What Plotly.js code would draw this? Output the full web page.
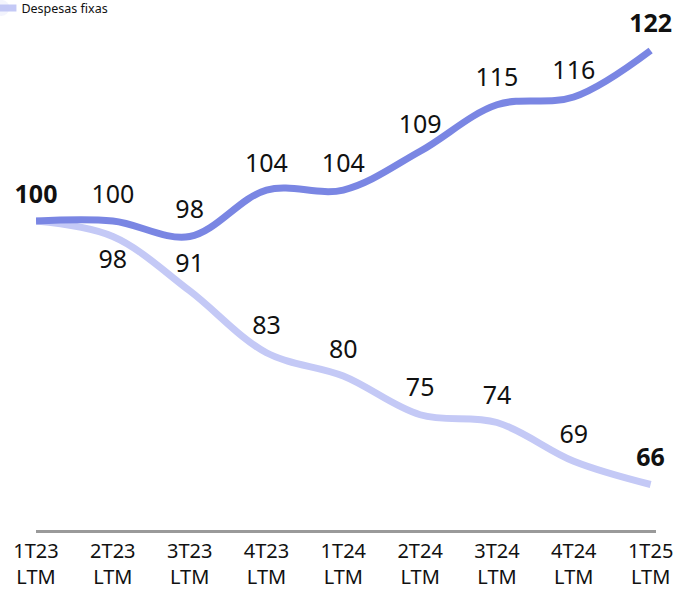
<!DOCTYPE html>
<html>
<head>
<meta charset="utf-8">
<script src="https://cdn.plot.ly/plotly-3.0.1.min.js"></script>
<style>html,body{margin:0;padding:0;background:#fff;}#chart{width:680px;height:591px;}</style>
</head>
<body>
<div id="chart"></div>
<script>
var categories = ["1T23<br>LTM","2T23<br>LTM","3T23<br>LTM","4T23<br>LTM","1T24<br>LTM","2T24<br>LTM","3T24<br>LTM","4T24<br>LTM","1T25<br>LTM"];
var receitaValues = [100, 100, 98, 104, 104, 109, 115, 116, 122];
var despesasValues = [100, 98, 91, 83, 80, 75, 74, 69, 66];
var receitaName = "Receita";
var despesasName = "Despesas fixas";

var idx = categories.map(function(_, i){ return i; });

var darkText = receitaValues.map(function(v, i){
  return (i === 0 || i === receitaValues.length - 1) ? "<b>" + v + "</b>" : String(v);
});
var lightText = despesasValues.map(function(v, i){
  if (i === 0) return "";
  return (i === despesasValues.length - 1) ? "<b>" + v + "</b>" : String(v);
});
var lightPos = despesasValues.map(function(v, i){ return i === 1 ? "bottom center" : "top center"; });

var labelFont = {family: "Noto Sans, Open Sans, sans-serif", size: 25, color: "#111"};

var traces = [
  {
    x: idx, y: despesasValues, name: despesasName, type: "scatter",
    mode: "lines+markers+text",
    line: {color: "#c4c9f6", width: 7, shape: "spline", smoothing: 1},
    marker: {size: 18, opacity: 0, color: "#c4c9f6"},
    text: lightText, textposition: lightPos, textfont: labelFont, cliponaxis: false,
    hoverinfo: "skip", showlegend: true
  },
  {
    x: idx, y: receitaValues, name: receitaName, type: "scatter",
    mode: "lines+markers+text",
    line: {color: "#7a86e3", width: 7, shape: "spline", smoothing: 1},
    marker: {size: 18, opacity: 0, color: "#7a86e3"},
    text: darkText, textposition: "top center", textfont: labelFont, cliponaxis: false,
    hoverinfo: "skip", showlegend: false
  }
];

var layout = {
  width: 680, height: 591,
  margin: {l: 36, r: 24, t: 20, b: 61, autoexpand: false},
  paper_bgcolor: "#fff", plot_bgcolor: "#fff",
  font: {family: "Noto Sans, Open Sans, sans-serif", color: "#111"},
  showlegend: true,
  legend: {x: -0.088, xanchor: "left", y: 1.023, yanchor: "middle", yref: "paper",
           font: {size: 12.5, color: "#111"}, bgcolor: "rgba(0,0,0,0)"},
  xaxis: {
    range: [0, 8.07], tickvals: idx, ticktext: categories,
    showgrid: false, zeroline: false, showline: true, linecolor: "#9a9a9a", linewidth: 3,
    ticks: "", tickfont: {size: 20, color: "#111"}, ticklabelstandoff: 1, fixedrange: true
  },
  yaxis: {
    range: [60.13, 125.94], visible: false, showgrid: false, zeroline: false, fixedrange: true
  }
};

Plotly.newPlot("chart", traces, layout, {displayModeBar: false, staticPlot: true});
</script>
</body>
</html>
